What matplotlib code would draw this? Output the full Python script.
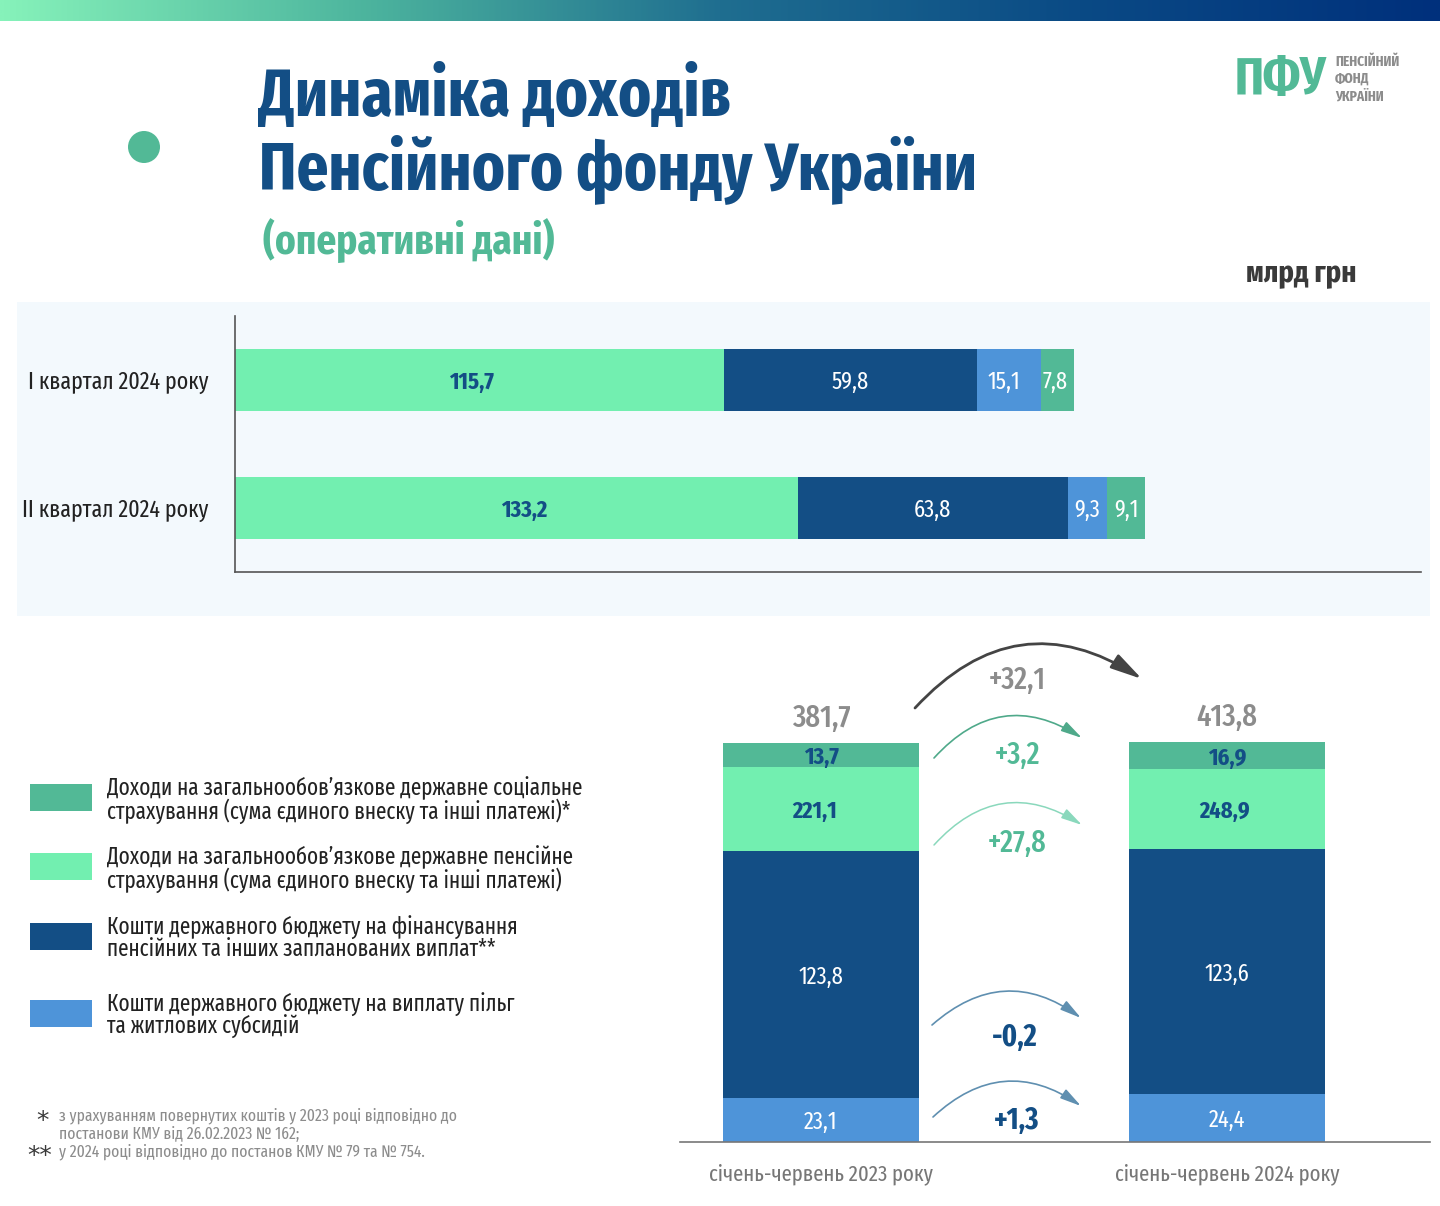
import numpy as np
import matplotlib
matplotlib.use("Agg")
import matplotlib.pyplot as plt
from matplotlib.patches import Rectangle, Circle, FancyArrowPatch

plt.rcParams['font.family'] = ['Fira Sans Extra Condensed', 'Roboto Condensed', 'DejaVu Sans']

LIGHT = "#72EFB0"
NAVY = "#134E85"
BLUE = "#4E94D9"
TEAL = "#52B996"
GREY = "#8C8C8C"
DARK = "#3A3A3A"

# top chart: billions UAH
quarters = ["I квартал 2024 року", "II квартал 2024 року"]
q_pension = [115.7, 133.2]
q_budget = [59.8, 63.8]
q_benefits = [15.1, 9.3]
q_social = [7.8, 9.1]

# bottom chart: printed values
periods = ["січень-червень 2023 року", "січень-червень 2024 року"]
h_benefits = [23.1, 24.4]
h_budget = [123.8, 123.6]
h_pension = [221.1, 248.9]
h_social = [13.7, 16.9]
h_totals = ["381,7", "413,8"]

# the stacked bars in the picture are not to scale with the printed values,
# so these are the segment lengths
drawn_benefits = [22, 24]
drawn_budget = [123.5, 122.5]
drawn_pension = [42, 40]
drawn_social = [12, 13.5]

deltas = ["+32,1", "+3,2", "+27,8", "-0,2", "+1,3"]

legend_labels = [
    "Доходи на загальнообов’язкове державне соціальне\nстрахування (сума єдиного внеску та інші платежі)*",
    "Доходи на загальнообов’язкове державне пенсійне\nстрахування (сума єдиного внеску та інші платежі)",
    "Кошти державного бюджету на фінансування\nпенсійних та інших запланованих виплат**",
    "Кошти державного бюджету на виплату пільг\nта житлових субсидій",
]


def fmt(v):
    return f"{v:.1f}".replace(".", ",")


fig = plt.figure(figsize=(14.4, 12.06), dpi=100)
W, H = 1440.0, 1206.0


def px_axes(x0, y0, x1, y1, **kw):
    return fig.add_axes([x0 / W, 1 - y1 / H, (x1 - x0) / W, (y1 - y0) / H], **kw)


# background layer in pixel coords
bg = px_axes(0, 0, W, H, zorder=0)
bg.axis("off")
cmap = matplotlib.colors.LinearSegmentedColormap.from_list(
    "top", ["#86F2BA", "#4DB59E", "#1F6E90", "#0A4A85", "#00307C"])
bg.imshow(np.linspace(0, 1, 512)[None, :], extent=(0, W, 21, 0), cmap=cmap, aspect="auto")
bg.set_xlim(0, W)
bg.set_ylim(H, 0)
bg.add_patch(Rectangle((17, 302), 1413, 314, color="#F3F9FD", lw=0))
bg.add_patch(Circle((144, 147), 16, color=TEAL, lw=0))

bg.text(258, 98, "Динаміка доходів", fontsize=49, fontweight="bold", color=NAVY, va="center")
bg.text(259, 169, "Пенсійного фонду України", fontsize=49, fontweight="bold", color=NAVY, va="center")
bg.text(263, 242, "(оперативні дані)", fontsize=30.5, fontweight="bold", color=TEAL, va="center")
bg.text(1246, 274, "млрд грн", fontsize=22.5, fontweight="bold", color=DARK, va="center")

bg.text(1235, 80, "ПФУ", fontsize=38, fontweight="bold", color=TEAL, va="center")
for yy, s in zip([62, 79, 96], ["ПЕНСІЙНИЙ", "ФОНД", "УКРАЇНИ"]):
    bg.text(1335, yy, s, fontsize=10.5, fontweight="bold", color=GREY, va="center")

# top stacked bars
ax = px_axes(235, 316, 1421, 572, zorder=2)
ax.patch.set_alpha(0)
ax.set_xlim(0, 1186 / 4.227)
ax.set_ylim(1.5, -0.5)
y = np.arange(len(quarters))
left = np.zeros(len(quarters))
q_series = [(q_pension, LIGHT, NAVY, "bold", [-1.9, 1.9]), (q_budget, NAVY, "white", "normal", [0, 0]),
            (q_benefits, BLUE, "white", "normal", [-1.2, 0]), (q_social, TEAL, "white", "normal", [-0.4, 0])]
for vals, col, tc, fw, dx in q_series:
    ax.barh(y, vals, left=left, height=0.49, color=col, lw=0)
    for i, v in enumerate(vals):
        ax.text(left[i] + v / 2 + dx[i], y[i] + 0.02, fmt(v), ha="center", va="center", color=tc,
                fontsize=17.5, fontweight=fw)
    left += np.array(vals)
for s in ["top", "right"]:
    ax.spines[s].set_visible(False)
for s in ["left", "bottom"]:
    ax.spines[s].set_color("#555555")
    ax.spines[s].set_linewidth(1.2)
ax.set_xticks([])
ax.set_yticks(y)
ax.set_yticklabels(quarters, fontsize=17.2, color="#222222")
ax.tick_params(axis="y", length=0, pad=19)

# bottom stacked bars, 2 px per unit
ax2 = px_axes(680, 640, 1430, 1142, zorder=2)
ax2.patch.set_alpha(0)
ax2.set_xlim((680 - 821) / 406, (1430 - 821) / 406)
ax2.set_ylim(0, 251)
x = np.arange(len(periods))
bottom = np.zeros(len(periods))
h_series = [(drawn_benefits, h_benefits, BLUE, "white", "normal", [0, 0]),
            (drawn_budget, h_budget, NAVY, "white", "normal", [0, 0]),
            (drawn_pension, h_pension, LIGHT, NAVY, "bold", [-0.015, -0.005]),
            (drawn_social, h_social, TEAL, NAVY, "bold", [0, 0])]
for drawn, printed, col, tc, fw, dx in h_series:
    ax2.bar(x, drawn, bottom=bottom, width=0.483, color=col, lw=0)
    for i, v in enumerate(printed):
        ax2.text(x[i] + dx[i], bottom[i] + drawn[i] / 2 - 1.2, fmt(v), ha="center", va="center", color=tc,
                 fontsize=17.5, fontweight=fw)
    bottom += np.array(drawn)
for i, t in enumerate(h_totals):
    ax2.text(x[i], bottom[i] + 5, t, ha="center", va="bottom", color=GREY, fontsize=22.5, fontweight="medium")
for s in ["top", "right", "left"]:
    ax2.spines[s].set_visible(False)
ax2.spines["bottom"].set_color("#777777")
ax2.spines["bottom"].set_linewidth(1.2)
ax2.set_yticks([])
ax2.set_xticks(x)
ax2.set_xticklabels(periods, fontsize=16.2, color="#777777")
ax2.tick_params(axis="x", length=0, pad=15)

# overlay for arrows, legend and notes
top = px_axes(0, 0, W, H, zorder=3)
top.patch.set_alpha(0)
top.set_xlim(0, W)
top.set_ylim(H, 0)
top.axis("off")

arrows = [((915, 708), (1142, 679), -0.42, "#444444", 2.0, 24, (1017, 680), GREY, "medium"),
          ((934, 758), (1082, 738), -0.42, "#4FA98A", 1.2, 16, (1017, 755), TEAL, "medium"),
          ((934, 845), (1082, 825), -0.42, "#8AD8BC", 1.1, 16, (1017, 843), TEAL, "medium"),
          ((932, 1025), (1081, 1018), -0.40, "#5F8FB0", 1.2, 16, (1015, 1038), NAVY, "bold"),
          ((933, 1117), (1081, 1106), -0.40, "#5F8FB0", 1.2, 16, (1017, 1121), NAVY, "bold")]
for (a, b, rad, col, lw, ms, tpos, tcol, fw), label in zip(arrows, deltas):
    top.add_patch(FancyArrowPatch(a, b, connectionstyle=f"arc3,rad={rad}",
                                  arrowstyle="-|>,head_length=0.8,head_width=0.2",
                                  mutation_scale=ms, color=col, lw=lw, shrinkA=0, shrinkB=0))
    top.text(tpos[0], tpos[1], label, ha="center", va="center", color=tcol, fontsize=22, fontweight=fw)

swatch_y = [784, 853, 923, 1000]
swatch_col = [TEAL, LIGHT, NAVY, BLUE]
for yy, col, label in zip(swatch_y, swatch_col, legend_labels):
    top.add_patch(Rectangle((30, yy), 62, 27, color=col, lw=0))
    top.text(107, yy + 16, label, fontsize=16.6, color="#222222", va="center", linespacing=0.93)

top.text(36, 1121, "*", fontsize=18, color=DARK, va="center", family="DejaVu Sans")
top.text(27, 1156, "**", fontsize=18, color=DARK, va="center", family="DejaVu Sans")
top.text(59, 1116, "з урахуванням повернутих коштів у 2023 році відповідно до", fontsize=12.2, color=GREY, va="center")
top.text(59, 1134, "постанови КМУ від 26.02.2023 № 162;", fontsize=12.2, color=GREY, va="center")
top.text(59, 1152, "у 2024 році відповідно до постанов КМУ № 79 та № 754.", fontsize=12.2, color=GREY, va="center")

fig.savefig("out.png", dpi=100)
